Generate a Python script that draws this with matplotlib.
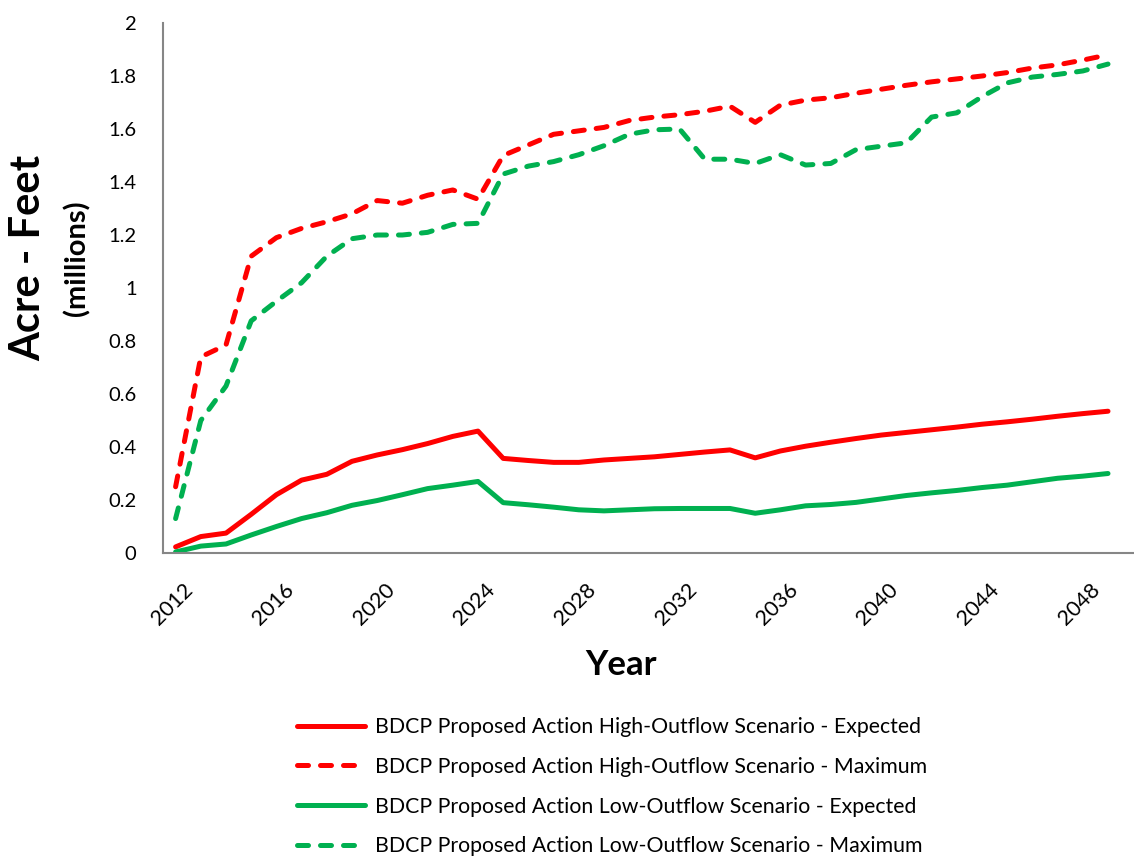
import numpy as np
import matplotlib.pyplot as plt
import matplotlib.transforms as mtransforms
from matplotlib.ticker import FuncFormatter

# Datos (millones de acre-pies)
years = list(range(2012, 2050))

high_expected = [0.023, 0.062, 0.075, 0.146, 0.22, 0.275, 0.297, 0.346, 0.37, 0.39,
                 0.413, 0.44, 0.46, 0.357, 0.349, 0.342, 0.342, 0.351, 0.357, 0.363,
                 0.372, 0.381, 0.389, 0.359, 0.385, 0.403, 0.418, 0.432, 0.445, 0.455,
                 0.465, 0.475, 0.486, 0.495, 0.505, 0.516, 0.526, 0.535]
high_maximum = [0.25, 0.74, 0.785, 1.12, 1.19, 1.225, 1.25, 1.28, 1.33, 1.32,
                1.35, 1.37, 1.335, 1.50, 1.54, 1.58, 1.593, 1.606, 1.632, 1.645,
                1.654, 1.667, 1.686, 1.625, 1.69, 1.709, 1.718, 1.735, 1.75, 1.765,
                1.778, 1.789, 1.80, 1.813, 1.83, 1.842, 1.86, 1.88]
low_expected = [0.004, 0.026, 0.034, 0.068, 0.10, 0.13, 0.152, 0.18, 0.198, 0.22,
                0.243, 0.256, 0.27, 0.19, 0.182, 0.173, 0.163, 0.159, 0.163, 0.167,
                0.168, 0.168, 0.168, 0.15, 0.163, 0.178, 0.183, 0.191, 0.204, 0.217,
                0.227, 0.236, 0.247, 0.256, 0.269, 0.282, 0.29, 0.3]
low_maximum = [0.13, 0.50, 0.63, 0.876, 0.95, 1.02, 1.12, 1.186, 1.2, 1.2,
               1.21, 1.24, 1.244, 1.43, 1.46, 1.477, 1.503, 1.537, 1.58, 1.597,
               1.60, 1.486, 1.486, 1.47, 1.503, 1.464, 1.47, 1.522, 1.535, 1.548,
               1.645, 1.661, 1.722, 1.774, 1.796, 1.806, 1.819, 1.845]

labels = ['BDCP Proposed Action High-Outflow Scenario - Expected',
          'BDCP Proposed Action High-Outflow Scenario - Maximum',
          'BDCP Proposed Action Low-Outflow Scenario - Expected',
          'BDCP Proposed Action Low-Outflow Scenario - Maximum']

plt.rcParams['font.family'] = ['Lato', 'DejaVu Sans']

W, H = 1134, 858
fig = plt.figure(figsize=(W / 100, H / 100), dpi=100)
ax = fig.add_axes([163 / W, 1 - 553 / H, (W - 163) / W, 530 / H])

red = '#FF0000'
green = '#00B050'
lw = 3.6
dash = (2.2, 2.4)

l1, = ax.plot(years, high_expected, color=red, lw=lw, solid_capstyle='round', solid_joinstyle='round')
l2, = ax.plot(years, high_maximum, color=red, lw=lw, dashes=dash, dash_capstyle='round')
l3, = ax.plot(years, low_expected, color=green, lw=lw, solid_capstyle='round', solid_joinstyle='round')
l4, = ax.plot(years, low_maximum, color=green, lw=lw, dashes=dash, dash_capstyle='round')

ax.set_xlim(2011.5, 2011.5 + (W - 163) / 25.2)
ax.set_ylim(0, 2)
ax.set_yticks(np.arange(0, 2.01, 0.2))
ax.yaxis.set_major_formatter(FuncFormatter(lambda v, p: ('%.1f' % v).rstrip('0').rstrip('.')))
ax.set_xticks(range(2012, 2050, 4))
ax.tick_params(axis='y', length=0, pad=19, labelsize=14.5)
ax.tick_params(axis='x', length=0, pad=19, labelsize=15.5)
shift = mtransforms.ScaledTranslation(7 / 100, 0, fig.dpi_scale_trans)
for lab in ax.get_xticklabels():
    lab.set_rotation(45)
    lab.set_ha('right')
    lab.set_rotation_mode('anchor')
    lab.set_transform(lab.get_transform() + shift)

for s in ['top', 'right']:
    ax.spines[s].set_visible(False)
for s in ['left', 'bottom']:
    ax.spines[s].set_color('#868686')
    ax.spines[s].set_linewidth(1.5)

# Etiquetas de ejes
fig.text(28 / W, 1 - 258 / H, 'Acre - Feet', rotation=90, fontsize=30, fontweight='bold',
         ha='center', va='center')
fig.text(77 / W, 1 - 258 / H, '(millions)', rotation=90, fontsize=21, fontweight='bold',
         ha='center', va='center')
fig.text(621 / W, 1 - 665 / H, 'Year', fontsize=25, fontweight='bold', ha='center', va='center')

fig.legend([l1, l2, l3, l4], labels, loc='upper left', bbox_to_anchor=(297 / W, 1 - 717 / H),
           frameon=False, fontsize=15.3, handlelength=3.2, handletextpad=0.48,
           labelspacing=0.93, borderpad=0, borderaxespad=0)

fig.savefig('out.png', dpi=100)
